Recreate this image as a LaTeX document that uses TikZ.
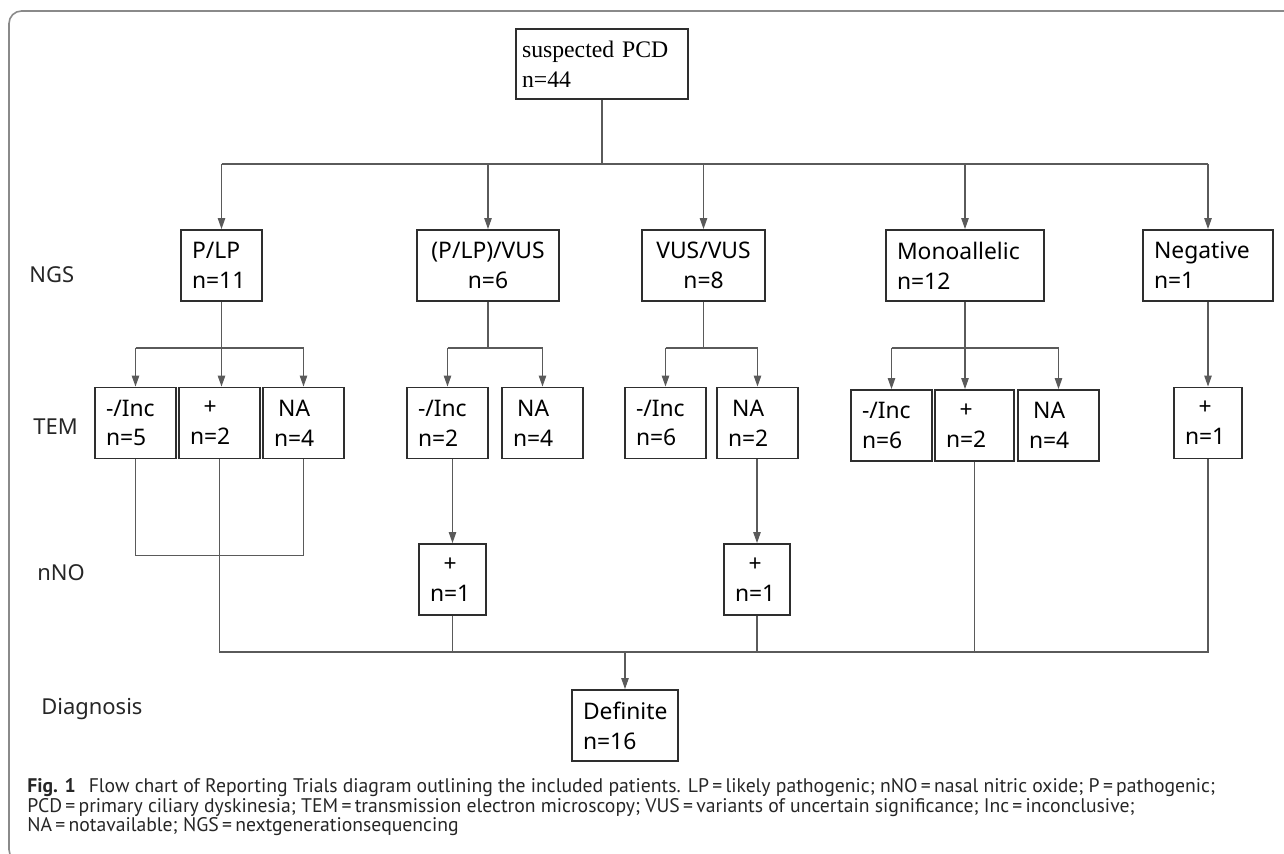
\documentclass[tikz,border=0pt]{standalone}
\usepackage{fontspec}
\setmainfont{Liberation Serif}
\setsansfont{Noto Sans}
\newfontfamily\capfont{PT Sans}
\usepackage{calc}
\usetikzlibrary{arrows.meta}

\definecolor{framegray}{HTML}{8A8A8A}
\definecolor{linegray}{HTML}{5A5A5A}
\definecolor{boxline}{HTML}{2E2E2E}

% first line centred over the second one
\newcommand{\overn}[2]{\makebox[\widthof{#2}][c]{#1}\\#2}

\tikzset{
  box/.style={draw=boxline, line width=1.1pt, inner xsep=0.22cm, inner ysep=0pt,
    minimum height=1.42cm, align=left, font=\sffamily\fontsize{13}{17}\selectfont},
  line/.style={draw=linegray, line width=0.6pt},
  arr/.style={line, -{Triangle[length=0.22cm,width=0.15cm]}},
  rowlabel/.style={anchor=west, inner sep=0pt, text=black!85,
    font=\sffamily\fontsize{12.5}{15}\selectfont},
  captext/.style={anchor=base west, inner sep=0pt, text=black!85,
    font=\capfont\fontsize{11.2}{11.4}\selectfont}
}

\begin{document}
\begin{tikzpicture}[x=0.02cm,y=-0.02cm]

    \useasboundingbox (0,0) rectangle (1284,854);

    % frame round the figure
    \draw[framegray, line width=0.9pt, rounded corners=0.25cm] (9,11) rectangle (1320,862);

    % row labels
    \node[rowlabel] (lngs) at (29,275) {NGS};
    \node[rowlabel] (ltem) at (33,427) {TEM};
    \node[rowlabel] (lnno) at (37,573) {nNO};
    \node[rowlabel] (ldia) at (41,709) {Diagnosis};

    % top box
    \node[box, font=\rmfamily\fontsize{13.5}{17}\selectfont, inner xsep=0.12cm, text width=3.2cm, minimum height=1.4cm]
        (top) at (602,64) {suspected PCD\\n=44};

    % NGS
    \node[box, text width=1.18cm] (plp) at (221.5,265.5) {P/LP\\n=11};
    \node[box, text width=2.4cm, align=center] (plpvus) at (488,265.5) {(P/LP)/VUS\\n=6};
    \node[box, text width=2.02cm, align=center] (vusvus) at (703.5,265.5) {VUS/VUS\\n=8};
    \node[box, text width=2.72cm] (mono) at (965,265.5) {Monoallelic\\n=12};
    \node[box, text width=2.16cm] (neg) at (1208,265.5) {Negative\\n=1};

    % TEM
    \node[box, text width=1.18cm] (inc5) at (135.5,423) {-/Inc\\n=5};
    \node[box, text width=1.18cm] (plus2) at (219.5,423) {\overn{+}{n=2}};
    \node[box, text width=1.18cm] (na4) at (303.5,423) {\overn{NA}{n=4}};
    \node[box, text width=1.18cm] (inc2) at (447.5,423) {-/Inc\\n=2};
    \node[box, text width=1.18cm] (na4b) at (542.5,423) {\overn{NA}{n=4}};
    \node[box, text width=1.18cm] (inc6) at (665.5,423) {-/Inc\\n=6};
    \node[box, text width=1.18cm] (na2) at (757.5,423) {\overn{NA}{n=2}};
    \node[box, text width=1.18cm] (inc6b) at (891.5,425.5) {-/Inc\\n=6};
    \node[box, text width=1.14cm] (plus2b) at (974.5,425.5) {\overn{+}{n=2}};
    \node[box, text width=1.18cm] (na4c) at (1058.5,425.5) {\overn{NA}{n=4}};
    \node[box, text width=0.92cm] (plus1) at (1208,423) {\overn{+}{n=1}};

    % nNO
    \node[box, text width=0.9cm] (nno1) at (452.5,579.5) {\overn{+}{n=1}};
    \node[box, text width=0.88cm] (nno2) at (757,579.5) {\overn{+}{n=1}};

    % diagnosis
    \node[box, text width=1.68cm] (definite) at (625,725.5) {Definite\\n=16};

    % top bus
    \coordinate (bus) at (602,164);
    \draw[line] (top.south) -- (bus);
    \draw[line] (plp.north |- bus) -- (neg.north |- bus);
    \foreach \n in {plp,plpvus,vusvus,mono,neg}
        \draw[arr] (\n.north |- bus) -- (\n.north);

    % NGS -> TEM
    \coordinate (sub) at (0,348);
    \draw[line] (plp.south) -- (plp.south |- sub);
    \draw[line] (inc5.north |- sub) -- (na4.north |- sub);
    \draw[arr] (inc5.north |- sub) -- (inc5.north);
    \draw[arr] (plp.south |- sub) -- (plp.south |- plus2.north);
    \draw[arr] (na4.north |- sub) -- (na4.north);

    \draw[line] (plpvus.south) -- (plpvus.south |- sub);
    \draw[line] (inc2.north |- sub) -- (na4b.north |- sub);
    \foreach \n in {inc2,na4b}
        \draw[arr] (\n.north |- sub) -- (\n.north);

    \draw[line] (vusvus.south) -- (vusvus.south |- sub);
    \draw[line] (inc6.north |- sub) -- (na2.north |- sub);
    \foreach \n in {inc6,na2}
        \draw[arr] (\n.north |- sub) -- (\n.north);

    \draw[line] (mono.south) -- (mono.south |- sub);
    \draw[line] (inc6b.north |- sub) -- (na4c.north |- sub);
    \draw[arr] (inc6b.north |- sub) -- (inc6b.north);
    \draw[arr] (mono.south |- sub) -- (mono.south |- plus2b.north);
    \draw[arr] (na4c.north |- sub) -- (na4c.north);

    \draw[arr] (neg.south) -- (neg.south |- plus1.north);

    % TEM -> nNO
    \draw[arr] (nno1.north |- inc2.south) -- (nno1.north);
    \draw[arr] (nno2.north |- na2.south) -- (nno2.north);

    % closed bracket under P/LP
    \draw[line] (inc5.south) -- ++(0,96) -| (na4.south);

    % bottom bus
    \coordinate (mb) at (0,652);
    \draw[line] (plus2.south) -- (plus2.south |- mb) -- (plus1.south |- mb) -- (plus1.south);
    \foreach \n in {nno1,nno2,plus2b}
        \draw[line] (\n.south) -- (\n.south |- mb);
    \draw[arr] (definite.north |- mb) -- (definite.north);

    % caption
    \node[captext] (cap1) at (27,792) {\textbf{Fig. 1}\hspace{0.26cm}Flow chart of Reporting Trials diagram outlining the included patients. LP\,=\,likely pathogenic; nNO\,=\,nasal nitric oxide; P\,=\,pathogenic;};
    \node[captext] (cap2) at (27,812) {PCD\,=\,primary ciliary dyskinesia; TEM\,=\,transmission electron microscopy; VUS\,=\,variants of uncertain significance; Inc\,=\,inconclusive;};
    \node[captext] (cap3) at (27,831) {NA\,=\,notavailable; NGS\,=\,nextgenerationsequencing};

\end{tikzpicture}
\end{document}
